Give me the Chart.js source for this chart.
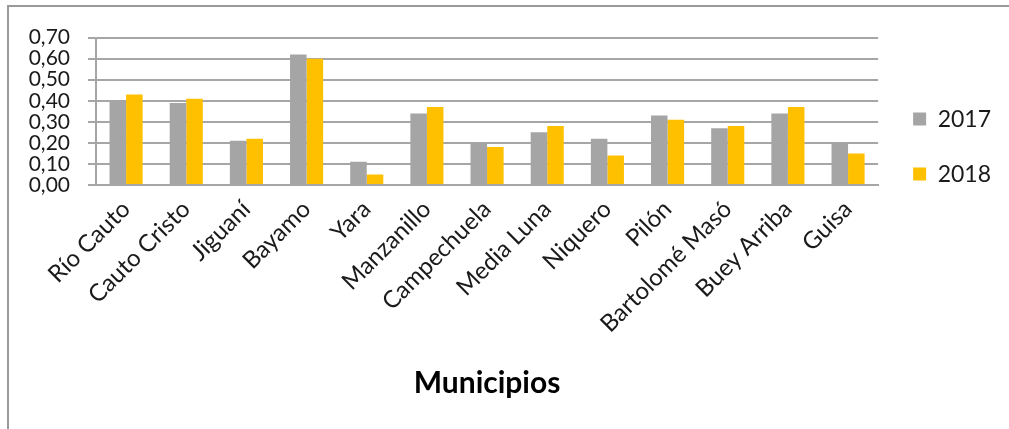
<!DOCTYPE html>
<html>
<head>
<meta charset="utf-8">
<script src="https://cdn.jsdelivr.net/npm/chart.js@4"></script>
<style>
  html, body { margin: 0; padding: 0; background: #fff; }
  #frame {
    position: absolute; left: 7px; top: 5px;
    width: 1002px; height: 424px;
    border-top: 2px solid #9a9a9a; border-left: 2px solid #9a9a9a;
    box-sizing: border-box;
  }
  #wrap { position: absolute; left: 0; top: 0; width: 1000px; height: 422px; }
</style>
</head>
<body>
<div id="frame"><div id="wrap"><canvas id="municipiosChart"></canvas></div></div>
<script>
const municipios = ["Río Cauto", "Cauto Cristo", "Jiguaní", "Bayamo", "Yara", "Manzanillo",
  "Campechuela", "Media Luna", "Niquero", "Pilón", "Bartolomé Masó", "Buey Arriba", "Guisa"];
const values2017 = [0.40, 0.39, 0.21, 0.62, 0.11, 0.34, 0.20, 0.25, 0.22, 0.33, 0.27, 0.34, 0.20];
const values2018 = [0.43, 0.41, 0.22, 0.60, 0.05, 0.37, 0.18, 0.28, 0.14, 0.31, 0.28, 0.37, 0.15];
const yTicks = [0, 0.1, 0.2, 0.3, 0.4, 0.5, 0.6, 0.7];

const fontFamily = "Lato, 'Open Sans', sans-serif";

// Excel puts the legend a bit lower and further right than chart.js does
const legendShift = {
  id: "legendShift",
  afterLayout(chart) {
    const lg = chart.legend;
    lg.top += 38;
    lg.bottom += 38;
    lg.left += 3;
    lg.right += 3;
  },
};

const ctx = document.getElementById("municipiosChart").getContext("2d");
const chart = new Chart(ctx, {
  type: "bar",
  data: {
    labels: municipios,
    datasets: [
      { label: "2017", data: values2017, backgroundColor: "#a5a5a5" },
      { label: "2018", data: values2018, backgroundColor: "#ffc000" },
    ],
  },
  plugins: [legendShift],
  options: {
    responsive: true,
    maintainAspectRatio: false,
    animation: false,
    datasets: { bar: { categoryPercentage: 0.55, barPercentage: 1.0 } },
    layout: { padding: { top: 28, right: 11, bottom: 28, left: 0 } },
    plugins: {
      legend: {
        position: "right",
        align: "start",
        fullSize: false,
        labels: {
          boxWidth: 13,
          boxHeight: 13,
          padding: 32,
          color: "#1a1a1a",
          font: { family: fontFamily, size: 23 },
        },
      },
      tooltip: { enabled: false },
    },
    scales: {
      x: {
        afterFit: (axis) => { axis.height = 216; },
        grid: { display: false },
        border: { color: "#a6a6a6", width: 2 },
        ticks: {
          color: "#1a1a1a",
          maxRotation: 45,
          minRotation: 45,
          padding: 2,
          font: { family: fontFamily, size: 24 },
        },
        title: {
          display: true,
          text: "Municipios",
          color: "#000",
          font: { family: fontFamily, size: 30, weight: "bold" },
          padding: { top: 0, bottom: 0 },
        },
      },
      y: {
        min: 0,
        max: 0.7,
        afterFit: (axis) => { axis.width = 87; },
        afterBuildTicks: (axis) => { axis.ticks = yTicks.map((v) => ({ value: v })); },
        border: { color: "#a6a6a6", width: 2 },
        grid: { color: "#a6a6a6", lineWidth: 2, tickLength: 8 },
        ticks: {
          autoSkip: false,
          color: "#1a1a1a",
          padding: 18,
          font: { family: fontFamily, size: 21 },
          callback: (v) => v.toFixed(2).replace(".", ","),
        },
      },
    },
  },
});
</script>
</body>
</html>
